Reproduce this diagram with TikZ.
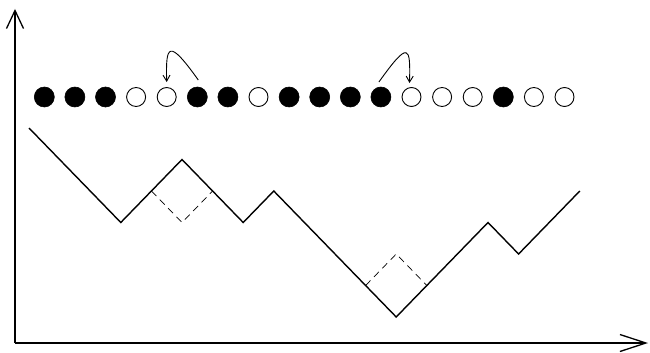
\documentclass[tikz,border=0pt]{standalone}
\usepackage{tikz}
\usetikzlibrary{arrows.meta, calc}

\begin{document}
\begin{tikzpicture}[
        x=1pt, y=-1pt,
        axis/.style={draw=black, line width=1.3pt, -{Straight Barb[length=18pt, width=17pt]}},
        haxis/.style={draw=black, line width=1.3pt, -{Straight Barb[length=26pt, width=17pt]}},
        occ/.style={circle, draw=black, fill=black, minimum size=20pt, inner sep=0pt, line width=0.6pt},
        vac/.style={circle, draw=black, fill=white, minimum size=19pt, inner sep=0pt, line width=0.9pt},
        walk/.style={draw=black, line width=1.4pt, line join=miter},
        flip/.style={draw=black, line width=0.7pt, dash pattern=on 7pt off 5pt},
        hop/.style={draw=black, line width=0.9pt, -{Straight Barb[length=6pt, width=7pt]}}
    ]
      \useasboundingbox (0,0) rectangle (650,353);

      % --- Axes ---
      \coordinate (O) at (15,343);
      \coordinate (ytop) at (15,9);
      \coordinate (xend) at (648,343);
      \draw[axis] (O) -- (ytop);
      \draw[haxis] (O) -- (xend);

      % --- Particle row ---
      \foreach \s [count=\i] in {occ,occ,occ,vac,vac,occ,occ,vac,occ,occ,occ,occ,vac,vac,vac,occ,vac,vac}
        \node[\s] (c\i) at ({29+(\i-0.5)*30.6},97) {};

      % Jumps
      \draw[hop] ($(c6)+(1,-17)$) .. controls +(-30,-42) and +(-1,-37) .. ($(c5)+(0,-15)$);
      \draw[hop] ($(c12)+(-2,-15)$) .. controls +(30,-42) and +(1,-37) .. ($(c13)+(-2,-14)$);

      % --- Height profile ---
      \draw[walk] (29,128) -- (120.8,222.5) -- (182,159.5) -- (243.2,222.5) -- (273.8,191)
                  -- (396.2,317) -- (488,222.5) -- (518.6,254) -- (579.8,191);

      % Flipped corners
      \draw[flip] (151.4,191) -- (182,222.5) -- (212.6,191);
      \draw[flip] (365.6,285.5) -- (396.2,254) -- (426.8,285.5);
    \end{tikzpicture}
\end{document}
